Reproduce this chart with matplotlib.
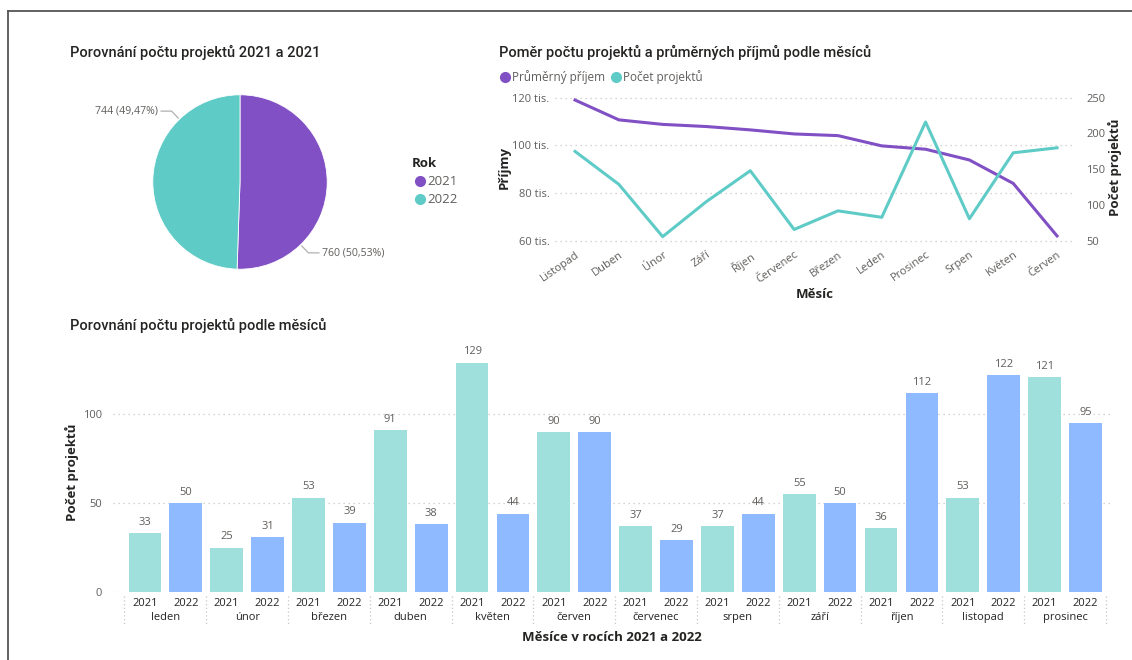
import matplotlib.pyplot as plt
import numpy as np
from matplotlib.lines import Line2D
from matplotlib.ticker import FuncFormatter
import matplotlib.transforms as mtransforms

# --- data ---
pie_years = ["2021", "2022"]
pie_counts = [760, 744]

line_months = ["Listopad", "Duben", "Únor", "Září", "Říjen", "Červenec",
               "Březen", "Leden", "Prosinec", "Srpen", "Květen", "Červen"]
avg_income = [119000, 110700, 108800, 107900, 106500, 104800,
              104100, 99800, 98400, 93900, 84100, 62100]
project_count = [175, 129, 56, 105, 148, 66, 92, 83, 216, 81, 173, 180]

bar_months = ["leden", "únor", "březen", "duben", "květen", "červen",
              "červenec", "srpen", "září", "říjen", "listopad", "prosinec"]
count_2021 = [33, 25, 53, 91, 129, 90, 37, 37, 55, 36, 53, 121]
count_2022 = [50, 31, 39, 38, 44, 90, 29, 44, 50, 112, 122, 95]

PURPLE = "#8050C4"
TEAL = "#5FCBC7"
BAR21 = "#9FE0DD"
BAR22 = "#8FBAFF"
TXT = "#252423"
GREY = "#605E5C"
GRID = "#C8C6C4"

plt.rcParams['font.family'] = ['Open Sans', 'DejaVu Sans']
TITLE_FONT = ['Roboto', 'DejaVu Sans']

W, H = 1132, 660
fig = plt.figure(figsize=(W / 100, H / 100), dpi=100)


def px(x, y, w, h):
    # pixel box (left, top, width, height) -> figure fraction
    return [x / W, (H - y - h) / H, w / W, h / H]


# frame lines of the page
fig.add_artist(Line2D([8 / W, 8 / W], [0, 1 - 11 / H], color="#555555", lw=1.3))
fig.add_artist(Line2D([8 / W, 1], [1 - 11 / H, 1 - 11 / H], color="#555555", lw=1.3))

# ---------------- pie ----------------
fig.text(70 / W, 1 - 52 / H, "Porovnání počtu projektů 2021 a 2021", fontsize=10.5,
         family=TITLE_FONT, color=TXT, va="center", weight="medium")
ax_pie = fig.add_axes(px(131, 73, 218, 218))
total = sum(pie_counts)
ax_pie.pie(pie_counts, colors=[PURPLE, TEAL], startangle=90, counterclock=False,
           wedgeprops=dict(linewidth=0.6, edgecolor="white"))
label_angles = [-46, 134]
for cnt, ang in zip(pie_counts, label_angles):
    a = np.deg2rad(ang)
    x0, y0 = 1.02 * np.cos(a), 1.02 * np.sin(a)
    x1, y1 = 1.13 * np.cos(a), 1.13 * np.sin(a)
    sgn = 1 if np.cos(a) > 0 else -1
    x2 = x1 + sgn * 0.12
    ax_pie.plot([x0, x1, x2], [y0, y1, y1], color="#B3B0AD", lw=0.9, clip_on=False)
    txt = f"{cnt} ({cnt / total * 100:.2f}%)".replace(".", ",")
    ax_pie.text(x2 + sgn * 0.04, y1, txt, fontsize=7.6, color=GREY,
                ha="left" if sgn > 0 else "right", va="center")

handles = [Line2D([], [], marker="o", ls="", color=c, markersize=7)
           for c in [PURPLE, TEAL]]
leg = fig.legend(handles, pie_years, title="Rok", loc="upper left",
                 bbox_to_anchor=(400 / W, 1 - 145 / H), frameon=False,
                 fontsize=9.5, title_fontsize=9.5, handletextpad=0.0,
                 labelspacing=0.4, handlelength=1.2, labelcolor=GREY)
leg.get_title().set_weight("bold")
leg.get_title().set_color(TXT)
leg._legend_box.align = "left"

# ---------------- line chart ----------------
fig.text(499 / W, 1 - 52 / H, "Poměr počtu projektů a průměrných příjmů podle měsíců",
         fontsize=10.5, family=TITLE_FONT, color=TXT, va="center", weight="medium")
ax_l = fig.add_axes(px(555, 90, 520, 155))
x = np.arange(len(line_months))
ax_l.plot(x, avg_income, color=PURPLE, lw=2.2)
ax_l.set_xlim(-0.457, 11.41)
ax_l.set_ylim(58300, 123200)
ax_l.set_yticks([60000, 80000, 100000, 120000])
ax_l.yaxis.set_major_formatter(FuncFormatter(lambda v, p: f"{v / 1000:.0f} tis."))
ax_l.grid(axis="y", color=GRID, ls=(0, (1, 3)), lw=0.9)
ax_l.set_xticks(x)
ax_l.set_xticklabels(line_months, rotation=35, ha="right", rotation_mode="anchor")
ax_l.set_ylabel("Příjmy", fontsize=9.5, weight="bold", color=TXT, labelpad=1)
ax_l.set_xlabel("Měsíc", fontsize=9.5, weight="bold", color=TXT, labelpad=2)

ax_r = ax_l.twinx()
ax_r.plot(x, project_count, color=TEAL, lw=2.2)
ax_r.set_ylim(50 + (58.3 - 60) * 200 / 60, 50 + (123.2 - 60) * 200 / 60)
ax_r.set_yticks([50, 100, 150, 200, 250])
ax_r.set_ylabel("Počet projektů", fontsize=9.5, weight="bold", color=TXT, labelpad=2)

for a in (ax_l, ax_r):
    for s in a.spines.values():
        s.set_visible(False)
    a.tick_params(length=0, labelsize=8, labelcolor=GREY)
ax_l.tick_params(axis="y", pad=4)
ax_l.tick_params(axis="x", pad=3)
ax_r.tick_params(axis="y", pad=8)

lhandles = [Line2D([], [], marker="o", ls="", color=c, markersize=7)
            for c in [PURPLE, TEAL]]
fig.legend(lhandles, ["Průměrný příjem", "Počet projektů"], loc="center left",
           bbox_to_anchor=(487 / W, 1 - 77 / H), ncol=2, frameon=False,
           fontsize=8.5, handletextpad=0.0, columnspacing=0.3, handlelength=1.2,
           labelcolor=GREY)

# ---------------- bar chart ----------------
fig.text(70 / W, 1 - 325 / H, "Porovnání počtu projektů podle měsíců", fontsize=10.5,
         family=TITLE_FONT, color=TXT, va="center", weight="medium")
ax_b = fig.add_axes(px(113, 352, 997, 240))
pos21 = np.arange(len(bar_months)) * 2
pos22 = pos21 + 1
b1 = ax_b.bar(pos21, count_2021, width=0.8, color=BAR21)
b2 = ax_b.bar(pos22, count_2022, width=0.8, color=BAR22)
for bars in (b1, b2):
    for r in bars:
        h = r.get_height()
        ax_b.text(r.get_x() + r.get_width() / 2, h + 3, f"{h:.0f}", ha="center",
                  va="bottom", fontsize=8, color=GREY)
ax_b.set_xlim(-0.78, 23.6)
ax_b.set_ylim(0, 135)
ax_b.set_yticks([0, 50, 100])
ax_b.grid(axis="y", color=GRID, ls=(0, (1, 3)), lw=0.9)
ax_b.set_axisbelow(True)
for s in ax_b.spines.values():
    s.set_visible(False)
ticks = np.concatenate([pos21, pos22])
ax_b.set_xticks(ticks)
ax_b.set_xticklabels(["2021"] * len(pos21) + ["2022"] * len(pos22))
ax_b.tick_params(length=0, labelsize=8, labelcolor=GREY)
ax_b.tick_params(axis="x", labelcolor=TXT, pad=4)
ax_b.tick_params(axis="y", pad=8)
ax_b.set_ylabel("Počet projektů", fontsize=9.5, weight="bold", color=TXT, labelpad=3)
ax_b.set_xlabel("Měsíce v rocích 2021 a 2022", fontsize=9.5, weight="bold",
                color=TXT, labelpad=16)

trans = mtransforms.blended_transform_factory(ax_b.transData, ax_b.transAxes)
for i, m in enumerate(bar_months):
    ax_b.text(pos21[i] + 0.5, -0.105, m, transform=trans, ha="center", va="center",
              fontsize=8, color=TXT)
for b in np.arange(len(bar_months) + 1) * 2 - 0.5:
    ax_b.plot([b, b], [-0.015, -0.14], transform=trans, color=GRID,
              ls=(0, (1, 2)), lw=0.9, clip_on=False)

fig.savefig("out.png", dpi=100, facecolor="white")
